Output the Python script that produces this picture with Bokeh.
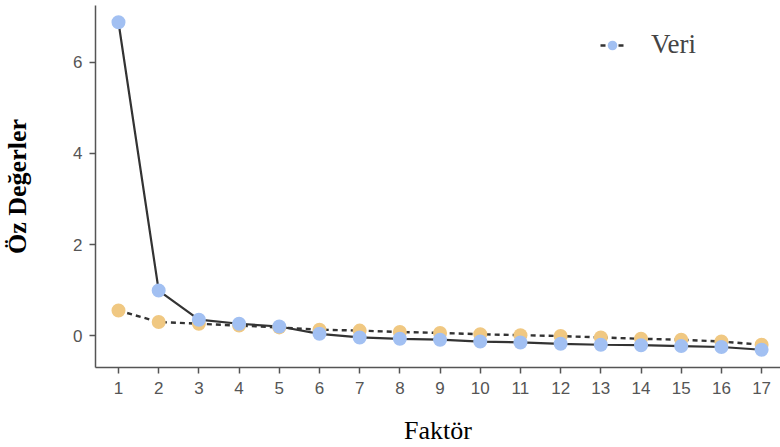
from bokeh.plotting import figure
from bokeh.models import Range1d, FixedTicker, Legend, LegendItem, ColumnDataSource
from bokeh.embed import file_html
from bokeh.resources import INLINE

factors = list(range(1, 18))
veri = [6.88, 0.99, 0.35, 0.26, 0.20, 0.04, -0.04, -0.07, -0.09, -0.13, -0.15, -0.18, -0.20, -0.21, -0.23, -0.25, -0.31]
simule = [0.55, 0.30, 0.26, 0.22, 0.18, 0.13, 0.11, 0.08, 0.06, 0.03, 0.01, -0.01, -0.04, -0.07, -0.09, -0.13, -0.20]
y_ticks = [0, 2, 4, 6]

src = ColumnDataSource(dict(x=factors, veri=veri, sim=simule))

p = figure(width=780, height=447, output_backend="svg", toolbar_location=None,
           x_range=Range1d(0.428, 17.47), y_range=Range1d(-0.70, 7.248),
           min_border_left=95, min_border_right=0, min_border_top=5, min_border_bottom=79)
p.outline_line_color = None
p.grid.visible = False
p.background_fill_color = "white"
p.border_fill_color = "white"

blue = "#a2c0f2"
orange = "#f0c882"

dash_line = p.line("x", "sim", source=src, line_color="#333333", line_width=2.4, line_dash="5 4")
p.line("x", "veri", source=src, line_color="#333333", line_width=2.2)
p.scatter("x", "sim", source=src, size=14, fill_color=orange, line_color=None)
blue_pts = p.scatter("x", "veri", source=src, size=14, fill_color=blue, line_color=None)

p.xaxis.ticker = FixedTicker(ticks=factors)
p.yaxis.ticker = FixedTicker(ticks=y_ticks)
for ax in (p.xaxis, p.yaxis):
    ax.axis_line_color = "#555555"
    ax.axis_line_width = 1.5
    ax.major_tick_line_color = "#555555"
    ax.major_tick_line_width = 1.5
    ax.major_tick_out = 6
    ax.major_tick_in = 0
    ax.minor_tick_line_color = None
    ax.major_label_text_font = "Liberation Sans"
    ax.major_label_text_font_size = "17px"
    ax.major_label_text_color = "#555555"
    ax.axis_label_text_font = "Liberation Serif"
    ax.axis_label_text_font_size = "26px"
    ax.axis_label_text_color = "black"

p.xaxis.axis_label = "Faktör"
p.xaxis.axis_label_text_font_style = "normal"
p.xaxis.major_label_standoff = 8
p.xaxis.axis_label_standoff = 19
p.yaxis.axis_label = "Öz Değerler"
p.yaxis.axis_label_text_font_style = "bold"
p.yaxis.major_label_standoff = 7
p.yaxis.axis_label_standoff = 38

legend = Legend(items=[LegendItem(label="Veri", renderers=[dash_line, blue_pts])],
                location=(505, 307), glyph_width=24, glyph_height=30,
                label_standoff=27, padding=0, margin=0,
                label_text_font="Liberation Serif", label_text_font_size="27px",
                border_line_color=None, background_fill_alpha=0)
p.add_layout(legend)

open("out.html", "w").write(file_html(p, INLINE))
